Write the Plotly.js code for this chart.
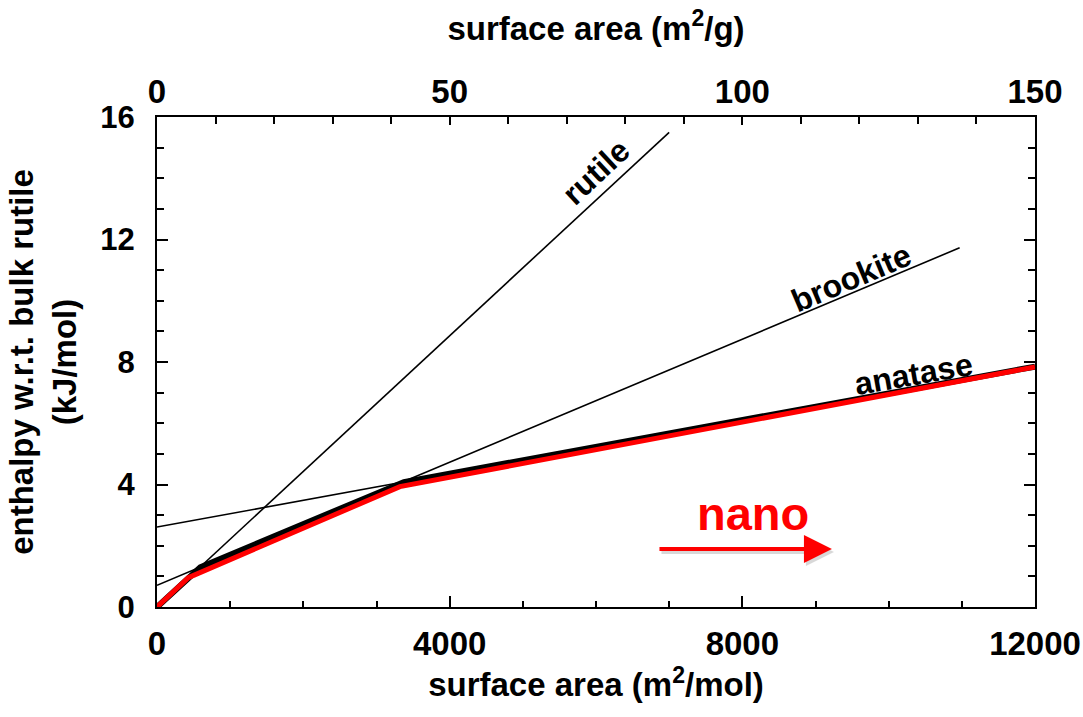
<!DOCTYPE html>
<html>
<head>
<meta charset="utf-8">
<script src="https://cdn.plot.ly/plotly-3.0.1.min.js"></script>
<style>html,body{margin:0;padding:0;background:#fff;}#chart{width:1083px;height:717px;}</style>
</head>
<body>
<div id="chart"></div>
<script>
// Phase lines: enthalpy (kJ/mol) vs surface area (m^2/mol)
const rutileX = [0, 7000];
const rutileY = [0, 15.5];
const brookiteX = [0, 10970];
const brookiteY = [0.71, 11.73];
const anataseX = [0, 12000];
const anataseY = [2.61, 7.85];
// thick stability envelope (lowest-enthalpy phase)
const envelopeX = [0, 592, 3375, 12000];
const envelopeY = [0, 1.30, 4.08, 7.85];
// red highlight
const redX = [0, 428, 3320, 12000];
const redY = [0, 0.96, 3.93, 7.84];
// top axis (m^2/g) range
const topRange = [0, 150];
// tick labels
const xTicks = [0, 4000, 8000, 12000];
const yTicks = [0, 4, 8, 12, 16];
const topTicks = [0, 50, 100, 150];
// labels
const phaseLabels = [
  {text: 'rutile', x: 6000, y: 14.2, angle: -43},
  {text: 'brookite', x: 9485, y: 10.75, angle: -23},
  {text: 'anatase', x: 10346, y: 7.6, angle: -10}
];
const nanoText = {text: 'nano', x: 8145, y: 3.04};
const nanoArrow = {x0: 6847, x1: 9225, y: 1.894};

const FONT = 'Liberation Sans, Arial, Helvetica, sans-serif';
const thin = {color: '#000', width: 1.6};

const traces = [
  {x: rutileX, y: rutileY, mode: 'lines', line: thin, hoverinfo: 'skip'},
  {x: brookiteX, y: brookiteY, mode: 'lines', line: thin, hoverinfo: 'skip'},
  {x: anataseX, y: anataseY, mode: 'lines', line: thin, hoverinfo: 'skip'},
  {x: envelopeX, y: envelopeY, mode: 'lines', line: {color: '#000', width: 6}, hoverinfo: 'skip'},
  {x: redX, y: redY, mode: 'lines', line: {color: '#ff0000', width: 5}, hoverinfo: 'skip'},
  {x: topRange, y: [0, 0], xaxis: 'x2', mode: 'lines', line: {width: 0}, opacity: 0, hoverinfo: 'skip'}
];

const annotations = phaseLabels.map(p => ({
  text: p.text, x: p.x, y: p.y, xref: 'x', yref: 'y', showarrow: false,
  textangle: p.angle, font: {family: FONT, size: 32, color: '#000', weight: 'bold'}
}));
annotations.push({
  text: nanoText.text, x: nanoText.x, y: nanoText.y, xref: 'x', yref: 'y', showarrow: false,
  font: {family: FONT, size: 47, color: '#ff0000', weight: 'bold'}
});
// arrow shadow
annotations.push({
  text: '', x: nanoArrow.x1, y: nanoArrow.y, ax: nanoArrow.x0, ay: nanoArrow.y,
  xref: 'x', yref: 'y', axref: 'x', ayref: 'y', showarrow: true,
  arrowhead: 2, arrowsize: 1.4, arrowwidth: 4, arrowcolor: 'rgba(0,0,0,0.15)',
  xshift: 2, yshift: -3
});
annotations.push({
  text: '', x: nanoArrow.x1, y: nanoArrow.y, ax: nanoArrow.x0, ay: nanoArrow.y,
  xref: 'x', yref: 'y', axref: 'x', ayref: 'y', showarrow: true,
  arrowhead: 2, arrowsize: 1.4, arrowwidth: 4, arrowcolor: '#ff0000'
});

const layout = {
  width: 1083, height: 717,
  margin: {l: 157, r: 48, t: 117, b: 110, pad: 0},
  paper_bgcolor: '#fff', plot_bgcolor: '#fff',
  showlegend: false,
  font: {family: FONT, color: '#000'},
  xaxis: {
    range: [0, 12000], tickvals: xTicks, ticktext: xTicks.map(String),
    ticks: 'inside', ticklen: 11, tickwidth: 2, tickcolor: '#000',
    minor: {dtick: 1000, ticks: 'inside', ticklen: 6, tickwidth: 2, tickcolor: '#000'},
    showline: true, linewidth: 2, linecolor: '#000', mirror: true,
    showgrid: false, zeroline: false,
    tickfont: {family: FONT, size: 33, weight: 'bold'},
    ticklabelstandoff: 6,
    title: {text: 'surface area (m<sup>2</sup>/mol)', font: {family: FONT, size: 33, weight: 'bold'}, standoff: 4},
    automargin: false
  },
  xaxis2: {
    range: topRange, overlaying: 'x', side: 'top', anchor: 'y',
    tickvals: topTicks, ticktext: topTicks.map(String),
    ticks: 'inside', ticklen: 8, tickwidth: 2, tickcolor: '#000',
    minor: {dtick: 10, ticks: 'inside', ticklen: 7, tickwidth: 2, tickcolor: '#000'},
    showline: false, showgrid: false, zeroline: false,
    tickfont: {family: FONT, size: 33, weight: 'bold'},
    ticklabelstandoff: 6,
    title: {text: 'surface area (m<sup>2</sup>/g)', font: {family: FONT, size: 33, weight: 'bold'}, standoff: 22},
    automargin: false
  },
  yaxis: {
    range: [0, 16], tickvals: yTicks, ticktext: yTicks.map(String),
    ticks: 'inside', ticklen: 11, tickwidth: 2, tickcolor: '#000',
    minor: {dtick: 1, ticks: 'inside', ticklen: 7, tickwidth: 2, tickcolor: '#000'},
    showline: true, linewidth: 2, linecolor: '#000', mirror: 'ticks',
    showgrid: false, zeroline: false,
    tickfont: {family: FONT, size: 31, weight: 'bold'},
    ticklabelstandoff: 14,
    title: {text: 'enthalpy w.r.t. bulk rutile<br>(kJ/mol)', font: {family: FONT, size: 33, weight: 'bold'}, standoff: 14},
    automargin: false
  },
  annotations: annotations
};

Plotly.newPlot('chart', traces, layout, {displayModeBar: false, staticPlot: true});
</script>
</body>
</html>
